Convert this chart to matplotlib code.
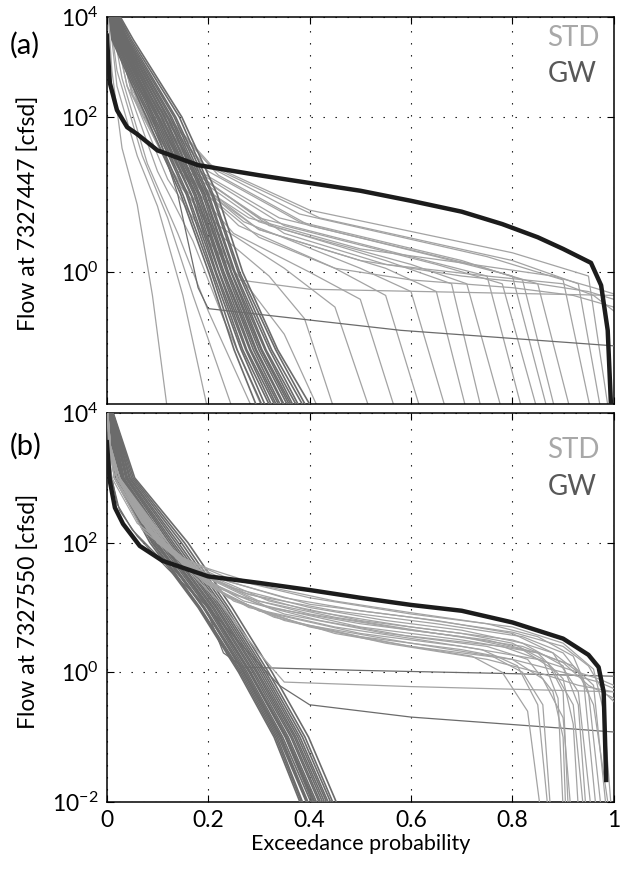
import numpy as np
import matplotlib
matplotlib.use("Agg")
import matplotlib.pyplot as plt

plt.rcParams['font.family'] = ['Lato', 'DejaVu Sans']
plt.rcParams['mathtext.fontset'] = 'custom'
plt.rcParams['mathtext.rm'] = 'Lato'
plt.rcParams['mathtext.it'] = 'Lato:italic'

# ---- data: (exceedance, log10 flow) ----
obs_a = [(0.0, 3.05), (0.006, 2.44), (0.02, 2.09), (0.04, 1.87), (0.06, 1.78), (0.1, 1.57),
         (0.18, 1.38), (0.3, 1.25), (0.4, 1.15), (0.5, 1.05), (0.6, 0.92), (0.7, 0.78),
         (0.78, 0.62), (0.85, 0.45), (0.9, 0.3), (0.955, 0.12), (0.975, -0.17),
         (0.988, -0.75), (0.995, -1.8)]
obs_b = [(0.0, 3.55), (0.006, 2.95), (0.016, 2.54), (0.032, 2.29), (0.065, 1.95), (0.11, 1.72),
         (0.2, 1.48), (0.3, 1.38), (0.4, 1.27), (0.5, 1.15), (0.6, 1.04), (0.7, 0.95),
         (0.8, 0.77), (0.9, 0.52), (0.95, 0.27), (0.97, 0.08), (0.98, -0.3), (0.985, -1.66)]

std_a = [
    [(0, 3.6), (0.01, 2.6), (0.03, 1.6), (0.06, 0.87), (0.09, -0.3), (0.12, -1.8)],
    [(0, 3.6), (0.02, 2.4), (0.06, 1.5), (0.1, 0.85), (0.15, -0.3), (0.2, -1.8)],
    [(0, 3.6), (0.02, 2.6), (0.07, 1.5), (0.12, 0.7), (0.17, -0.3), (0.25, -1.8)],
    [(0, 3.6), (0.03, 2.5), (0.08, 1.4), (0.14, 0.5), (0.2, -0.5), (0.29, -1.8)],
    [(0, 3.6), (0.04, 2.4), (0.1, 1.3), (0.17, 0.4), (0.23, -0.6), (0.31, -1.8)],
    [(0, 3.6), (0.05, 2.3), (0.12, 1.2), (0.2, 0.4), (0.28, -0.2), (0.35, -0.8), (0.42, -1.8)],
    [(0, 3.6), (0.06, 2.2), (0.14, 1.15), (0.22, 0.5), (0.32, -0.05), (0.39, -0.6), (0.45, -1.8)],
    [(0, 3.6), (0.05, 2.3), (0.13, 1.25), (0.22, 0.6), (0.35, 0.05), (0.45, -0.45), (0.52, -1.8)],
    [(0, 3.6), (0.07, 2.2), (0.15, 1.25), (0.25, 0.5), (0.4, 0.0), (0.5, -0.35), (0.57, -1.8)],
    [(0, 3.6), (0.06, 2.3), (0.15, 1.3), (0.26, 0.6), (0.45, 0.05), (0.55, -0.3), (0.62, -1.8)],
    [(0, 3.6), (0.05, 2.4), (0.14, 1.35), (0.27, 0.65), (0.5, 0.05), (0.6, -0.25), (0.67, -1.8)],
    [(0, 3.6), (0.08, 2.2), (0.17, 1.2), (0.3, 0.55), (0.55, 0.05), (0.65, -0.25), (0.71, -1.8)],
    [(0, 3.6), (0.06, 2.3), (0.16, 1.3), (0.3, 0.65), (0.55, 0.15), (0.68, -0.15), (0.74, -1.8)],
    [(0, 3.6), (0.07, 2.3), (0.18, 1.25), (0.32, 0.6), (0.6, 0.1), (0.71, -0.15), (0.78, -1.8)],
    [(0, 3.6), (0.05, 2.4), (0.16, 1.35), (0.3, 0.7), (0.6, 0.2), (0.75, -0.05), (0.82, -1.8)],
    [(0, 3.6), (0.08, 2.2), (0.19, 1.25), (0.35, 0.6), (0.65, 0.1), (0.78, -0.15), (0.85, -1.8)],
    [(0, 3.6), (0.06, 2.4), (0.17, 1.35), (0.34, 0.7), (0.65, 0.2), (0.8, -0.05), (0.87, -1.8)],
    [(0, 3.6), (0.07, 2.3), (0.2, 1.3), (0.38, 0.65), (0.7, 0.15), (0.82, -0.1), (0.885, -1.8)],
    [(0, 3.6), (0.09, 2.2), (0.22, 1.25), (0.4, 0.6), (0.72, 0.1), (0.85, -0.15), (0.915, -1.8)],
    [(0, 3.6), (0.06, 2.4), (0.19, 1.4), (0.38, 0.75), (0.75, 0.2), (0.9, -0.1), (0.955, -1.8)],
    [(0, 3.6), (0.08, 2.3), (0.21, 1.35), (0.42, 0.7), (0.8, 0.15), (0.93, -0.15), (0.975, -1.8)],
    [(0, 3.6), (0.07, 2.35), (0.2, 1.4), (0.4, 0.8), (0.8, 0.25), (0.95, -0.05), (0.99, -1.8)],
    [(0, 3.6), (0.05, 2.3), (0.15, 1.25), (0.3, 0.55), (0.5, 0.15), (0.7, -0.05), (0.85, -0.15), (0.95, -0.25), (1, -0.35)],
    [(0, 3.6), (0.04, 2.4), (0.12, 1.4), (0.2, 0.6), (0.26, -0.1), (0.4, -0.22), (0.7, -0.26), (1, -0.3)],
    [(0, 3.6), (0.06, 2.3), (0.16, 1.2), (0.3, 0.45), (0.45, 0.05), (0.6, -0.1), (0.8, -0.2), (0.92, -0.3), (1, -0.45)],
    [(0, 3.6), (0.08, 2.2), (0.2, 1.15), (0.35, 0.5), (0.55, 0.1), (0.75, -0.05), (0.9, -0.15), (0.96, -0.3), (1, -0.5)],
    [(0, 3.6), (0.05, 2.35), (0.14, 1.3), (0.28, 0.7), (0.5, 0.3), (0.7, 0.12), (0.88, -0.05), (0.96, -0.2), (1, -0.28)],
]

std_b = [
    [(0, 4.2), (0.004, 3.5), (0.01, 3.0), (0.06, 2.3), (0.14, 1.8), (0.2, 1.6), (0.3, 1.35), (0.45, 1.1), (0.6, 0.92), (0.75, 0.75), (0.85, 0.55), (0.92, 0.25), (0.95, -0.3), (0.975, -2.1)],
    [(0, 4.2), (0.005, 3.5), (0.015, 3.0), (0.07, 2.2), (0.15, 1.7), (0.22, 1.45), (0.35, 1.15), (0.5, 0.95), (0.65, 0.8), (0.8, 0.6), (0.88, 0.3), (0.93, -0.3), (0.955, -2.1)],
    [(0, 4.2), (0.006, 3.5), (0.02, 3.0), (0.08, 2.2), (0.16, 1.6), (0.25, 1.3), (0.4, 1.0), (0.55, 0.8), (0.7, 0.65), (0.82, 0.45), (0.9, 0.1), (0.93, -0.5), (0.945, -2.1)],
    [(0, 4.2), (0.005, 3.5), (0.015, 3.0), (0.09, 2.1), (0.17, 1.55), (0.25, 1.2), (0.4, 0.9), (0.6, 0.65), (0.75, 0.5), (0.85, 0.3), (0.9, -0.1), (0.92, -0.8), (0.93, -2.1)],
    [(0, 4.2), (0.006, 3.5), (0.02, 3.0), (0.1, 2.0), (0.18, 1.5), (0.27, 1.1), (0.42, 0.8), (0.6, 0.55), (0.75, 0.4), (0.83, 0.2), (0.88, -0.3), (0.9, -1.0), (0.905, -2.1)],
    [(0, 4.2), (0.007, 3.5), (0.025, 3.0), (0.1, 2.05), (0.19, 1.4), (0.28, 1.0), (0.45, 0.7), (0.62, 0.5), (0.74, 0.35), (0.81, 0.1), (0.85, -0.5), (0.87, -2.1)],
    [(0, 4.2), (0.006, 3.5), (0.02, 3.0), (0.11, 2.0), (0.2, 1.35), (0.3, 0.95), (0.45, 0.6), (0.6, 0.4), (0.72, 0.25), (0.78, 0.0), (0.83, -0.6), (0.855, -2.1)],
    [(0, 4.2), (0.006, 3.5), (0.02, 3.0), (0.09, 2.15), (0.17, 1.6), (0.26, 1.25), (0.4, 0.95), (0.6, 0.7), (0.8, 0.5), (0.88, 0.3), (0.93, 0.0), (0.96, -0.5), (0.99, -2.1)],
    [(0, 4.2), (0.005, 3.5), (0.015, 3.0), (0.08, 2.2), (0.16, 1.7), (0.24, 1.4), (0.4, 1.05), (0.6, 0.85), (0.8, 0.62), (0.9, 0.4), (0.95, 0.1), (0.98, -0.3), (1, -0.45)],
    [(0, 4.2), (0.006, 3.5), (0.02, 3.0), (0.1, 2.1), (0.19, 1.5), (0.3, 1.1), (0.45, 0.85), (0.65, 0.6), (0.82, 0.4), (0.9, 0.15), (0.95, -0.2), (1, -0.4)],
    [(0, 4.2), (0.007, 3.5), (0.025, 3.0), (0.12, 1.95), (0.21, 1.3), (0.3, 0.95), (0.5, 0.6), (0.7, 0.4), (0.85, 0.2), (0.93, 0.0), (0.97, -0.1), (1, -0.2)],
    [(0, 4.2), (0.006, 3.5), (0.02, 3.0), (0.1, 2.0), (0.2, 1.4), (0.3, 1.05), (0.5, 0.7), (0.7, 0.5), (0.85, 0.3), (0.92, 0.1), (0.96, -0.2), (0.985, -2.1)],
    [(0, 4.2), (0.008, 3.4), (0.03, 2.9), (0.12, 1.9), (0.22, 1.25), (0.33, 0.85), (0.5, 0.55), (0.7, 0.35), (0.8, 0.2), (0.86, -0.1), (0.9, -0.7), (0.915, -2.1)],
    [(0, 4.2), (0.006, 3.5), (0.02, 3.0), (0.11, 2.0), (0.2, 1.45), (0.32, 1.0), (0.5, 0.75), (0.7, 0.55), (0.82, 0.35), (0.88, 0.05), (0.92, -0.5), (0.94, -2.1)],
    [(0, 4.2), (0.007, 3.5), (0.025, 3.0), (0.13, 1.9), (0.23, 1.2), (0.35, 0.8), (0.55, 0.45), (0.75, 0.2), (0.85, 0.0), (0.93, -0.2), (1, -0.3)],
    [(0, 4.2), (0.006, 3.5), (0.02, 3.0), (0.1, 2.05), (0.18, 1.55), (0.28, 1.2), (0.45, 0.95), (0.65, 0.75), (0.82, 0.55), (0.9, 0.3), (0.94, -0.1), (0.965, -2.1)],
    [(0, 4.2), (0.008, 3.4), (0.03, 2.9), (0.13, 1.85), (0.24, 1.15), (0.38, 0.75), (0.6, 0.45), (0.76, 0.25), (0.82, 0.0), (0.86, -0.5), (0.875, -2.1)],
    [(0, 4.2), (0.005, 3.5), (0.015, 3.0), (0.07, 2.3), (0.15, 1.75), (0.24, 1.45), (0.4, 1.15), (0.6, 0.9), (0.8, 0.7), (0.9, 0.45), (0.96, 0.05), (0.98, -0.6), (0.995, -2.1)],
    [(0, 4.2), (0.006, 3.5), (0.02, 3.0), (0.12, 1.95), (0.22, 1.3), (0.35, 0.9), (0.55, 0.6), (0.78, 0.4), (0.87, 0.15), (0.9, -0.3), (0.91, -2.1)],
    [(0, 4.2), (0.008, 3.4), (0.03, 2.9), (0.14, 1.8), (0.25, 1.1), (0.4, 0.7), (0.6, 0.4), (0.8, 0.2), (0.9, 0.0), (0.97, -0.15), (1, -0.25)],
    [(0, 4.2), (0.006, 3.5), (0.02, 3.0), (0.12, 1.9), (0.22, 1.1), (0.3, 0.3), (0.35, -0.15), (0.6, -0.22), (1, -0.3)],
    [(0, 4.2), (0.006, 3.5), (0.02, 3.0), (0.1, 2.0), (0.2, 1.5), (0.32, 1.1), (0.5, 0.8), (0.7, 0.6), (0.8, 0.45), (0.86, 0.2), (0.89, -0.4), (0.9, -2.1)],
]

# GW ensemble: exceedance at which each run crosses the given log10 flow levels
gw_levels_a = [3.6, 3.0, 2.0, 1.0, 0.0, -1.0, -1.8]
gw_a = [
    [0, 0.010, 0.078, 0.146, 0.201, 0.251, 0.300],
    [0, 0.012, 0.083, 0.150, 0.206, 0.257, 0.312],
    [0, 0.014, 0.087, 0.157, 0.209, 0.265, 0.318],
    [0, 0.016, 0.091, 0.160, 0.214, 0.268, 0.327],
    [0, 0.018, 0.094, 0.166, 0.216, 0.274, 0.331],
    [0, 0.020, 0.098, 0.167, 0.221, 0.276, 0.338],
    [0, 0.022, 0.101, 0.172, 0.222, 0.282, 0.341],
    [0, 0.024, 0.103, 0.175, 0.227, 0.284, 0.346],
    [0, 0.026, 0.107, 0.176, 0.230, 0.289, 0.349],
    [0, 0.028, 0.109, 0.180, 0.231, 0.293, 0.355],
    [0, 0.030, 0.113, 0.183, 0.236, 0.295, 0.357],
    [0, 0.032, 0.115, 0.184, 0.239, 0.300, 0.363],
    [0, 0.034, 0.119, 0.189, 0.240, 0.304, 0.367],
    [0, 0.036, 0.121, 0.192, 0.245, 0.306, 0.371],
    [0, 0.038, 0.125, 0.194, 0.246, 0.312, 0.374],
    [0, 0.040, 0.128, 0.198, 0.251, 0.314, 0.381],
    [0, 0.042, 0.133, 0.201, 0.253, 0.321, 0.385],
    [0, 0.045, 0.136, 0.207, 0.259, 0.325, 0.394],
    [0, 0.048, 0.143, 0.210, 0.262, 0.333, 0.399],
    [0, 0.052, 0.148, 0.218, 0.268, 0.337, 0.409],
]
gw_levels_b = [4.3, 3.0, 2.0, 1.0, 0.0, -1.0, -2.1]
gw_b = [
    [0, 0.015, 0.085, 0.180, 0.260, 0.330, 0.386],
    [0, 0.017, 0.089, 0.182, 0.263, 0.333, 0.389],
    [0, 0.018, 0.091, 0.184, 0.266, 0.336, 0.391],
    [0, 0.020, 0.094, 0.191, 0.269, 0.339, 0.399],
    [0, 0.022, 0.097, 0.190, 0.271, 0.342, 0.400],
    [0, 0.023, 0.099, 0.193, 0.274, 0.344, 0.402],
    [0, 0.025, 0.103, 0.198, 0.277, 0.347, 0.408],
    [0, 0.027, 0.107, 0.201, 0.281, 0.352, 0.411],
    [0, 0.029, 0.109, 0.202, 0.282, 0.353, 0.414],
    [0, 0.030, 0.111, 0.204, 0.284, 0.355, 0.416],
    [0, 0.032, 0.115, 0.208, 0.288, 0.358, 0.419],
    [0, 0.034, 0.118, 0.211, 0.291, 0.363, 0.424],
    [0, 0.037, 0.123, 0.215, 0.295, 0.366, 0.427],
    [0, 0.039, 0.127, 0.218, 0.298, 0.370, 0.431],
    [0, 0.041, 0.131, 0.222, 0.302, 0.373, 0.435],
    [0, 0.044, 0.136, 0.226, 0.306, 0.377, 0.439],
    [0, 0.046, 0.141, 0.230, 0.310, 0.381, 0.442],
    [0, 0.049, 0.147, 0.235, 0.314, 0.386, 0.447],
    [0, 0.052, 0.153, 0.240, 0.319, 0.391, 0.451],
    [0, 0.055, 0.160, 0.247, 0.326, 0.398, 0.458],
]
# GW runs with a long flat tail
gw_tail_a = [
    [(0, 3.6), (0.08, 2.2), (0.14, 1.0), (0.18, -0.2), (0.2, -0.47), (0.58, -0.75), (1, -0.95)],
]
gw_tail_b = [
    [(0, 4.2), (0.005, 3.2), (0.02, 2.6), (0.05, 2.2), (0.1, 1.8), (0.15, 1.45), (0.2, 0.9), (0.23, 0.3), (0.27, 0.08), (0.5, 0.03), (0.8, -0.02), (1, -0.06)],
    [(0, 4.2), (0.006, 3.1), (0.025, 2.5), (0.06, 2.1), (0.12, 1.6), (0.2, 1.0), (0.28, 0.3), (0.34, -0.2), (0.4, -0.5), (0.6, -0.69), (1, -0.92)],
]

xticks = [0, 0.2, 0.4, 0.6, 0.8, 1]
xticklabels = ['0', '0.2', '0.4', '0.6', '0.8', '1']
ylabels = ['Flow at 7327447 [cfsd]', 'Flow at 7327550 [cfsd]']
panel_tags = ['(a)', '(b)']

c_std = '#a3a3a3'
c_gw = '#6b6b6b'
c_obs = '#1c1c1c'

fig = plt.figure(figsize=(6.21, 8.69), dpi=100)
ax_a = fig.add_axes([0.172, 0.5351, 0.8164, 0.4453])
ax_b = fig.add_axes([0.172, 0.0771, 0.8164, 0.4476])


def draw_panel(ax, std, gw_levels, gw, tails, obs, std_z):
    for c in std:
        x, q = zip(*c)
        ax.plot(x, 10 ** np.array(q), color=c_std, lw=0.9, zorder=std_z)
    for row in gw:
        ax.plot(row, 10 ** np.array(gw_levels), color=c_gw, lw=1.2, zorder=3)
    for c in tails:
        x, q = zip(*c)
        ax.plot(x, 10 ** np.array(q), color=c_gw, lw=0.9, zorder=3)
    x, q = zip(*obs)
    ax.plot(x, 10 ** np.array(q), color=c_obs, lw=3.2, zorder=5, solid_joinstyle='round')


draw_panel(ax_a, std_a, gw_levels_a, gw_a, gw_tail_a, obs_a, 2)
draw_panel(ax_b, std_b, gw_levels_b, gw_b, gw_tail_b, obs_b, 4)

ax_a.set_yscale('log')
ax_b.set_yscale('log')
ax_a.set_ylim(10 ** -1.70, 10 ** 3.29)
ax_b.set_ylim(1e-2, 1e4)
ax_a.set_yticks([10 ** 3.29, 1e2, 1e0])
ax_a.set_yticklabels(['$10^{4}$', '$10^{2}$', '$10^{0}$'])
ax_b.set_yticks([1e4, 1e2, 1e0, 1e-2])
ax_b.set_yticklabels(['$10^{4}$', '$10^{2}$', '$10^{0}$', '$10^{-2}$'])

for i, ax in enumerate([ax_a, ax_b]):
    ax.set_xlim(0, 1)
    ax.set_xticks(xticks)
    ax.minorticks_off()
    ax.grid(True, color='k', linestyle=(0, (1.2, 9.6)), linewidth=0.8)
    ax.tick_params(direction='in', top=True, right=True, length=5, width=0.8,
                   labelsize=16.5, pad=6)
    for s in ax.spines.values():
        s.set_linewidth(1.1)
    ax.text(0.972, 0.946 if i == 0 else 0.905, 'STD', transform=ax.transAxes,
            ha='right', va='center', fontsize=20, color='#a8a8a8')
    ax.text(0.966, 0.853 if i == 0 else 0.81, 'GW', transform=ax.transAxes,
            ha='right', va='center', fontsize=20, color='#585858')
    fig.text(0.046, [0.755, 0.297][i], ylabels[i], rotation=90, ha='center',
             va='center', fontsize=16.5)
    fig.text(0.016, [0.948, 0.486][i], panel_tags[i], ha='left', va='center',
             fontsize=21)

ax_a.set_xticklabels([])
ax_b.set_xticklabels(xticklabels)
ax_b.set_xlabel('Exceedance probability', fontsize=15.5, labelpad=2)

fig.savefig('out.png', dpi=100)
